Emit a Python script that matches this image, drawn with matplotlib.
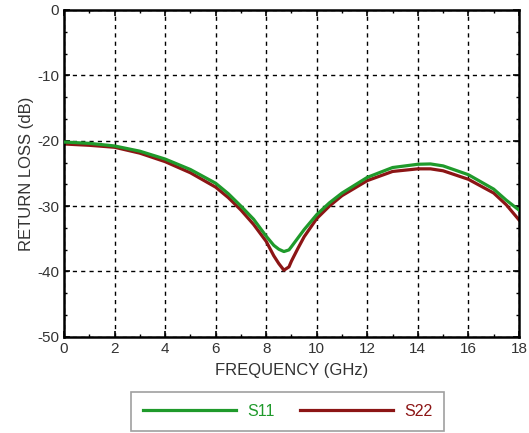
import matplotlib.pyplot as plt
from matplotlib.ticker import MultipleLocator

plt.rcParams['font.family'] = ['Liberation Sans', 'DejaVu Sans']
plt.rcParams['axes.unicode_minus'] = False

freq = [0, 1, 2, 3, 4, 5, 6, 6.5, 7, 7.5, 8, 8.3, 8.5, 8.7, 8.9, 9.0, 9.25, 9.5,
        10, 10.5, 11, 12, 13, 14, 14.5, 15, 16, 17, 17.5, 18]
s11 = [-20.2, -20.4, -20.8, -21.6, -22.8, -24.4, -26.5, -28.1, -30.0, -32.0, -34.6,
       -36.0, -36.6, -36.95, -36.7, -36.2, -34.9, -33.6,
       -31.3, -29.5, -28.0, -25.6, -24.1, -23.6, -23.55, -23.85, -25.2, -27.4, -29.1, -30.6]
s22 = [-20.5, -20.7, -21.0, -21.9, -23.2, -24.9, -27.1, -28.7, -30.6, -32.8, -35.4,
       -37.6, -38.8, -39.8, -39.3, -38.4, -36.5, -34.7,
       -31.9, -30.0, -28.4, -26.1, -24.7, -24.3, -24.3, -24.6, -25.9, -28.0, -29.8, -32.1]

fig = plt.figure(figsize=(5.29, 4.33), dpi=100)
ax = fig.add_axes([0.121, 0.222, 0.860, 0.755])

l1, = ax.plot(freq, s11, color='#1f9a2b', lw=2.3, label='S11', zorder=3)
l2, = ax.plot(freq, s22, color='#8c1515', lw=2.3, label='S22', zorder=2)

ax.set_xlim(0, 18)
ax.set_ylim(-50, 0)
ax.xaxis.set_major_locator(MultipleLocator(2))
ax.xaxis.set_minor_locator(MultipleLocator(1))
ax.yaxis.set_major_locator(MultipleLocator(10))
ax.yaxis.set_minor_locator(MultipleLocator(10 / 3))
ax.tick_params(which='both', direction='in', top=True, right=True,
               colors='black', labelcolor='#333333', labelsize=11)
ax.tick_params(which='major', length=4, width=1.2)
ax.tick_params(which='minor', length=2.5, width=1)
ax.grid(True, which='major', color='black', linestyle=(0, (3, 3)), lw=1)
for sp in ax.spines.values():
    sp.set_linewidth(1.8)

ax.set_xlabel('FREQUENCY (GHz)', fontsize=12, color='#333333', labelpad=5)
ax.set_ylabel('RETURN LOSS (dB)', fontsize=12, color='#333333', labelpad=2)

leg = fig.legend(handles=[l1, l2], loc='center', bbox_to_anchor=(0.544, 0.05),
                 ncol=2, handlelength=5.8, columnspacing=1.6, handletextpad=0.7,
                 fontsize=11.5, frameon=True, fancybox=False, borderpad=0.75,
                 labelcolor=['#1f9a2b', '#8c1515'])
leg.get_frame().set_edgecolor('#888888')
leg.get_frame().set_linewidth(1.2)

fig.savefig('out.png', dpi=100)
